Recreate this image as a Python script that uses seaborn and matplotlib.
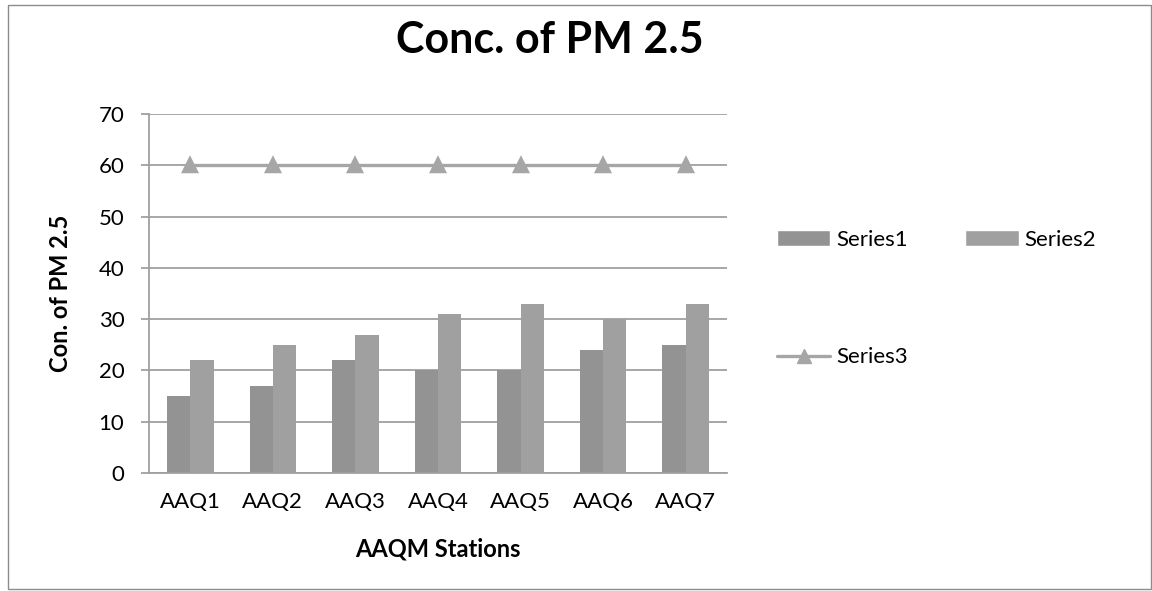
import numpy as np
import pandas as pd
import seaborn as sns
import matplotlib.pyplot as plt
from matplotlib.patches import Patch, Rectangle
from matplotlib.lines import Line2D

# dados
stations = ['AAQ1', 'AAQ2', 'AAQ3', 'AAQ4', 'AAQ5', 'AAQ6', 'AAQ7']
series1 = [15, 17, 22, 20, 20, 24, 25]
series2 = [22, 25, 27, 31, 33, 30, 33]
series3 = [60, 60, 60, 60, 60, 60, 60]

cor1 = '#939393'
cor2 = '#a0a0a0'
cor_linha = '#a6a6a6'
cor_grade = '#a0a0a0'

df = pd.DataFrame({
    'station': stations * 2,
    'value': series1 + series2,
    'series': ['Series1'] * len(stations) + ['Series2'] * len(stations),
})

sns.set_style('white')
plt.rcParams['font.family'] = ['Lato', 'DejaVu Sans']
plt.rcParams['text.color'] = 'black'
plt.rcParams['axes.labelcolor'] = 'black'

fig = plt.figure(figsize=(11.52, 5.91), dpi=100)
ax = fig.add_axes([149 / 1152, 1 - 473 / 591, 578 / 1152, 359 / 591])

sns.barplot(data=df, x='station', y='value', hue='series', palette=[cor1, cor2],
            width=0.565, linewidth=0, saturation=1, legend=False, ax=ax)
sns.pointplot(x=stations, y=series3, color=cor_linha, markers='^',
              markersize=10.5, linewidth=2.4, ax=ax)

ax.set_xlim(-0.5, 6.5)
ax.set_ylim(0, 70)
ax.set_yticks(np.arange(0, 71, 10))
ax.set_xticks(range(len(stations)))
ax.set_xticklabels(stations)
ax.set_xticks(np.arange(-0.5, 7, 1), minor=True)
ax.set_axisbelow(True)
ax.grid(axis='y', color=cor_grade, linewidth=1.3)
ax.grid(axis='x', visible=False)

for lado in ['top', 'right']:
    ax.spines[lado].set_visible(False)
for lado in ['left', 'bottom']:
    ax.spines[lado].set_color(cor_grade)
    ax.spines[lado].set_linewidth(1.3)

ax.tick_params(axis='x', which='major', length=0, pad=14, labelsize=16, labelcolor='black')
ax.tick_params(axis='x', which='minor', length=5.8, width=1.3, color=cor_grade, direction='out')
ax.tick_params(axis='y', which='major', length=5.8, width=1.3, color=cor_grade,
               direction='out', pad=12, labelsize=16, labelcolor='black', left=True)

ax.set_xlabel('AAQM Stations', fontsize=17, fontweight='bold', va='center')
ax.xaxis.set_label_coords(0.5, (473 - 549) / 359)
ax.set_ylabel('Con. of PM 2.5', fontsize=17, fontweight='bold', va='center')
ax.yaxis.set_label_coords((61 - 149) / 578, 0.5)

fig.text(550 / 1152, 1 - 40 / 591, 'Conc. of PM 2.5', ha='center', va='center',
         fontsize=31, fontweight='bold')

# legenda
handles = [
    Patch(facecolor=cor1, label='Series1'),
    Line2D([0], [0], color=cor_linha, lw=2.4, marker='^', markersize=10.5, label='Series3'),
    Patch(facecolor=cor2, label='Series2'),
]
fig.legend(handles=handles, ncol=2, loc='center left',
           bbox_to_anchor=(777 / 1152, 1 - 298.5 / 591), frameon=False,
           fontsize=16, borderpad=0, borderaxespad=0, handlelength=2.4,
           handletextpad=0.25, columnspacing=2.6, labelspacing=4.4)

fig.patches.append(Rectangle((8 / 1152, 1 - 589 / 591), 1143 / 1152, 584 / 591,
                             transform=fig.transFigure, fill=False,
                             edgecolor='#8c8c8c', linewidth=1))

fig.savefig('out.png', dpi=100)
